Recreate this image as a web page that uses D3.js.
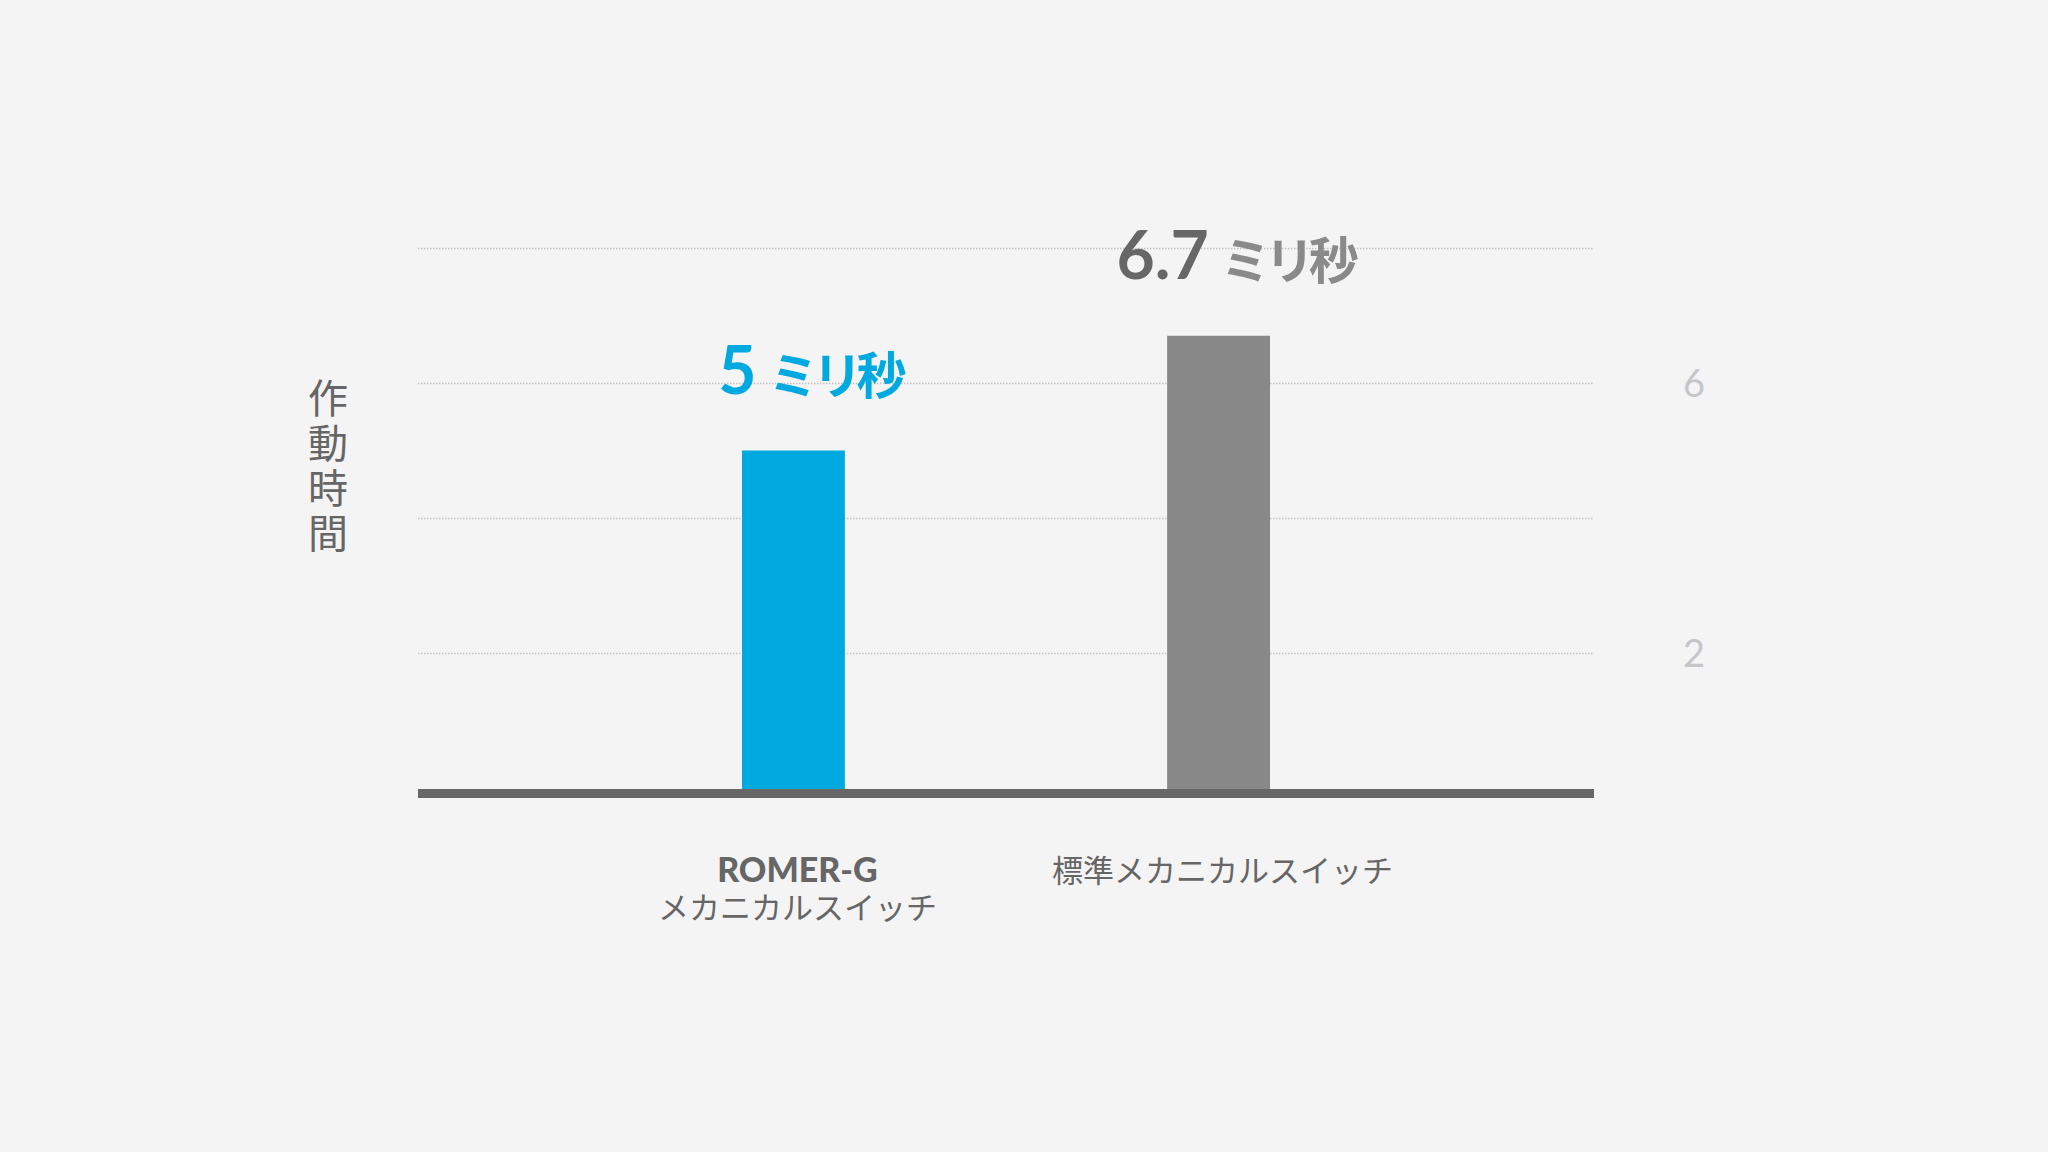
<!DOCTYPE html>
<html>
<head>
<meta charset="utf-8">
<script src="https://cdn.jsdelivr.net/npm/d3@7"></script>
<style>
  html, body { margin: 0; padding: 0; background: #f4f4f4; }
  svg { display: block; }
</style>
</head>
<body>
<div id="wrap"></div>
<script>
// data
var categories = ['romer', 'standard'];
var values = [5, 6.7];
var valueNums = ['5', '6.7'];
var valueUnits = ['ミリ秒', 'ミリ秒'];
var catLines = [['ROMER-G', 'メカニカルスイッチ'], ['標準メカニカルスイッチ']];
var gridTicks = [2, 4, 6, 8];
var labelTicks = [2, 6];
var yTitle = '作動時間';

var W = 2048, H = 1152;
var plot = {left: 418, right: 1594, top: 248, bottom: 788};

var svg = d3.select('#wrap').append('svg')
      .attr('width', W)
      .attr('height', H)
      .style('font-family', 'Lato, "Noto Sans CJK JP", sans-serif');

svg.append('rect').attr('width', W).attr('height', H).attr('fill', '#f4f4f4');

//scales
var y = d3.scaleLinear().domain([0, 8]).range([plot.bottom, plot.top]);
var x = d3.scaleBand().domain(categories)
      .range([plot.left, plot.right])
      .paddingInner(0.758)
      .paddingOuter(0.762);

//grid
var grid = d3.axisLeft(y).tickValues(gridTicks)
      .tickSize(-(plot.right - plot.left)).tickFormat('');
svg.append('g')
  .attr('transform', 'translate(' + plot.left + ',0)')
  .call(grid)
  .call(function(g) {
    g.select('.domain').remove();
    g.selectAll('.tick line')
      .attr('stroke', '#c2c2c2')
      .attr('stroke-width', 1.3)
      .attr('stroke-dasharray', '1.5,1.5');
  });

//right tick labels
svg.append('g').selectAll('text')
  .data(labelTicks)
  .enter().append('text')
    .attr('x', 1694)
    .attr('y', function(d) { return y(d); })
    .attr('dy', '0.36em')
    .attr('text-anchor', 'middle')
    .attr('fill', '#c4c6c9')
    .style('font-family', 'Lato, sans-serif')
    .style('font-weight', 400)
    .style('font-size', '38px')
    .text(function(d) { return d; });

//bars
var barColors = ['#00a9df', '#888888'];
svg.append('g').selectAll('rect')
  .data(values)
  .enter().append('rect')
    .attr('x', function(d, i) { return x(categories[i]); })
    .attr('y', function(d) { return y(d); })
    .attr('width', x.bandwidth())
    .attr('height', function(d) { return y(0) - y(d) + 2; })
    .attr('fill', function(d, i) { return barColors[i]; });

//baseline
svg.append('rect')
  .attr('x', plot.left)
  .attr('y', y(0) + 1)
  .attr('width', plot.right - plot.left)
  .attr('height', 9)
  .attr('fill', '#676767');

//value labels
var numColors = ['#00a9df', '#676767'];
var unitColors = ['#00a9df', '#8a8a8a'];
var vl = svg.append('g').selectAll('text')
  .data(values)
  .enter().append('text')
    .attr('x', function(d, i) { return x(categories[i]) + x.bandwidth() / 2 + 16; })
    .attr('y', function(d) { return y(d) - 57; })
    .attr('text-anchor', 'middle')
    .style('font-weight', 700);
vl.append('tspan')
  .style('font-family', 'Lato, sans-serif')
  .style('font-size', '66px')
  .attr('fill', function(d, i) { return numColors[i]; })
  .text(function(d, i) { return valueNums[i]; });
vl.append('tspan')
  .attr('dx', 12)
  .style('font-family', '"Noto Sans CJK JP", sans-serif')
  .style('font-size', '50px')
  .style('letter-spacing', '-6px')
  .attr('fill', function(d, i) { return unitColors[i]; })
  .text(function(d, i) { return valueUnits[i]; });

//category labels
var cl = svg.append('g').selectAll('text')
  .data(categories)
  .enter().append('text')
    .attr('text-anchor', 'middle')
    .attr('fill', '#666666')
    .attr('x', function(d) { return x(d) + x.bandwidth() / 2 + 4; })
    .attr('y', 882);
cl.selectAll('tspan')
  .data(function(d, i) { return catLines[i]; })
  .enter().append('tspan')
    .attr('x', function() { return d3.select(this.parentNode).attr('x'); })
    .attr('dy', function(d, j) { return j === 0 ? 0 : 37; })
    .style('font-family', function(d) { return /^[A-Z]/.test(d) ? 'Lato, sans-serif' : '"Noto Sans CJK JP", sans-serif'; })
    .style('font-weight', function(d) { return /^[A-Z]/.test(d) ? 900 : 400; })
    .style('font-size', function(d) { return /^[A-Z]/.test(d) ? '34px' : '31px'; })
    .text(function(d) { return d; });

//y title, vertical
svg.append('text')
  .attr('fill', '#666666')
  .style('font-family', '"Noto Sans CJK JP", sans-serif')
  .style('font-size', '40px')
  .style('writing-mode', 'vertical-rl')
  .style('letter-spacing', '5px')
  .attr('x', 328)
  .attr('y', 378)
  .text(yTitle);
</script>
</body>
</html>
